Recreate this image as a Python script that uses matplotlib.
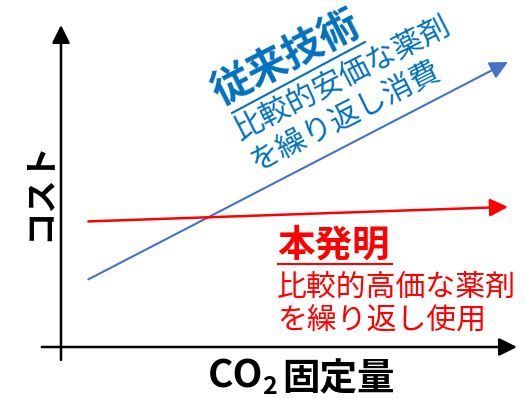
import matplotlib
matplotlib.use('Agg')
import matplotlib.pyplot as plt

plt.rcParams['font.family'] = ['Noto Sans CJK JP', 'DejaVu Sans']

# conceptual data (arbitrary units)
co2 = [0.6, 9.8]
cost_conventional = [2.1, 8.85]
cost_invention = [3.9, 4.35]

title_conv = '従来技術'
lines_conv = ['比較的安価な薬剤', 'を繰り返し消費']
title_inv = '本発明'
lines_inv = ['比較的高価な薬剤', 'を繰り返し使用']

W, H = 526, 398
blue_line = '#4472C4'
blue_text = '#0070C0'
red = '#FF0000'

fig = plt.figure(figsize=(W / 100, H / 100), dpi=100)
# axes origin at pixel (61, 347), top at y=25, right at x=517
ax = fig.add_axes([61 / W, (H - 347) / H, (517 - 61) / W, (347 - 25) / H])
ax.set_xlim(0, 10)
ax.set_ylim(0, 10)
ax.axis('off')


def px(x, y):
    return (x / W, 1 - y / H)


def arrow(x0, y0, x1, y1, color, lw, ms):
    ax.annotate('', xy=(x1, y1), xytext=(x0, y0),
                arrowprops=dict(arrowstyle='-|>,head_length=0.6,head_width=0.3',
                                color=color, lw=lw, mutation_scale=ms,
                                shrinkA=0, shrinkB=0),
                annotation_clip=False)

# axes with arrow heads
arrow(0, -0.4, 0, 10, 'black', 1.8, 18)
arrow(-0.42, 0, 10, 0, 'black', 1.8, 18)

# trend lines
arrow(co2[0], cost_conventional[0], co2[1], cost_conventional[1], blue_line, 1.5, 18)
arrow(co2[0], cost_invention[0], co2[1], cost_invention[1], red, 1.8, 18)

# conventional tech label (rotated)
ang = 27
fig.text(*px(214, 95), title_conv, color=blue_text, fontsize=29, fontweight='bold',
         rotation=ang, rotation_mode='anchor', ha='left', va='center')
fig.add_artist(plt.Line2D([232 / W, 365 / W], [1 - 113 / H, 1 - 42 / H],
                          color=blue_text, lw=1.5))
fig.text(*px(236, 132), lines_conv[0], color=blue_text, fontsize=21.5,
         rotation=ang, rotation_mode='anchor', ha='left', va='center')
fig.text(*px(252, 164), lines_conv[1], color=blue_text, fontsize=21.5,
         rotation=ang, rotation_mode='anchor', ha='left', va='center')

# invention label
fig.text(*px(277, 245), title_inv, color=red, fontsize=27, fontweight='bold',
         ha='left', va='center')
fig.add_artist(plt.Line2D([278 / W, 392 / W], [1 - 264 / H, 1 - 264 / H],
                          color=red, lw=1.5))
fig.text(*px(277, 287), lines_inv[0], color=red, fontsize=21.5, ha='left', va='center')
fig.text(*px(277, 320), lines_inv[1], color=red, fontsize=21.5, ha='left', va='center')

# axis labels
fig.text(*px(208, 387), 'CO', fontsize=28, fontweight='bold', ha='left', va='baseline')
fig.text(*px(262, 394), '2', fontsize=18, fontweight='bold', ha='left', va='baseline')
fig.text(*px(282, 379), '固定量', fontsize=27, fontweight='bold', ha='left', va='center')
fig.text(*px(39, 191), 'コスト', fontsize=24, fontweight='bold', rotation=90,
         ha='center', va='center')

fig.savefig('out.png', dpi=100)
